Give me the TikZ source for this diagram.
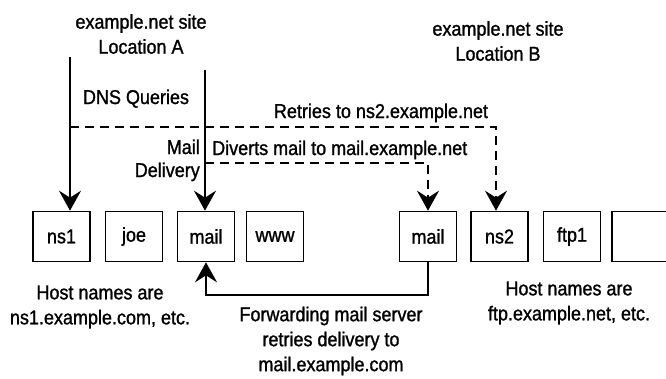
\documentclass[tikz,border=0pt]{standalone}
\usepackage{fontspec}
\setmainfont{Liberation Sans}[FakeStretch=0.9,FakeBold=1.2]
\usetikzlibrary{arrows.meta,calc}
\begin{document}
\begin{tikzpicture}[x=1pt,y=-1pt,
  font=\fontsize{20}{25}\selectfont,
  host/.style={draw,line width=1.6pt,minimum width=57pt,minimum height=50pt,inner sep=0pt},
  lbl/.style={align=center,inner sep=0pt},
  flow/.style={line width=2.4pt,-{Stealth[length=20pt,width=22pt,inset=7pt]}},
  retry/.style={flow,dash pattern=on 9pt off 6pt}]
\useasboundingbox (0,0) rectangle (666,378);

% hosts at the two sites
\node[host] (ns1)   at (61.5,236.5) {ns1};
\node[host] (joe)   at (134,236.5)  {joe};
\node[host] (mailA) at (206,236.5)  {mail};
\node[host] (www)   at (275,236.5)  {www};
\node[host] (mailB) at (428,236.5)  {mail};
\node[host] (ns2)   at (499.5,236.5) {ns2};
\node[host] (ftp1)  at (572,236.5)  {ftp1};
\node[host] (more)  at (640.5,236.5) {};

% site titles
\node[lbl] (siteA) at (141,34) {example.net site\\Location A};
\node[lbl] (siteB) at (498,41) {example.net site\\Location B};

% labels
\node[lbl,anchor=base] (dns) at (136,104) {DNS Queries};
\node[lbl,anchor=base] (retr) at (381,118) {Retries to ns2.example.net};
\node[lbl,anchor=base east] (deliv) at (200,154) {Mail};
\node[lbl,anchor=base east] (deliv2) at (200,177) {Delivery};
\node[lbl,anchor=base west] (divert) at (212,155) {Diverts mail to mail.example.net};
\node[lbl] (hostsA) at (100,307) {Host names are\\ns1.example.com, etc.};
\node[lbl] (hostsB) at (569,303) {Host names are\\ftp.example.net, etc.};
\node[lbl] (fwd) at (331,341) {Forwarding mail server\\retries delivery to\\mail.example.com};

% query and delivery paths
\coordinate (qtop) at (70,57);
\coordinate (mtop) at (205,70);
\draw[flow] (qtop) -- (qtop |- ns1.north);
\draw[flow] (mtop) -- (mtop |- mailA.north);

% fallback paths to location B
\coordinate (rstart) at (70,127);
\coordinate (rcorner) at (496,127);
\draw[retry] (rstart) -- (rcorner) -- (rcorner |- ns2.north);
\coordinate (dstart) at (205,163);
\coordinate (dcorner) at (mailB.north |- dstart);
\draw[retry] (dstart) -- (dcorner) -- (mailB.north);

% forwarding back to location A
\coordinate (fwdlow) at (0,295);
\draw[flow] (mailB.south) -- (mailB.south |- fwdlow) -- (mailA.south |- fwdlow) -- (mailA.south);
\end{tikzpicture}
\end{document}
